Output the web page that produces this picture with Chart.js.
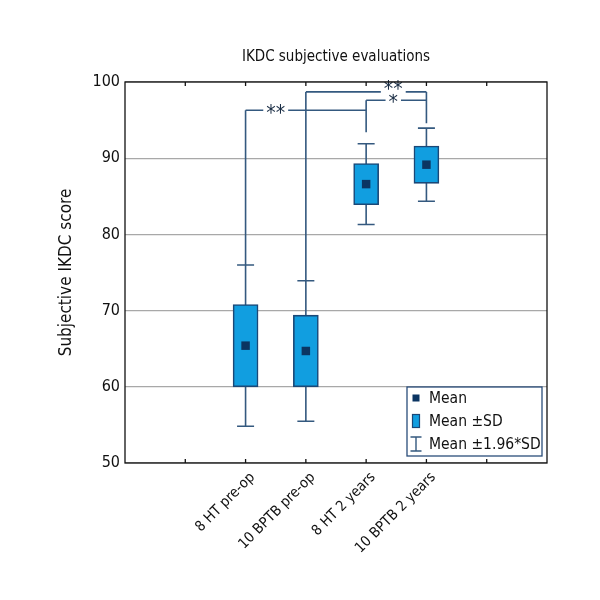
<!DOCTYPE html>
<html><head><meta charset="utf-8">
<script src="https://cdn.jsdelivr.net/npm/chart.js@4/dist/chart.umd.min.js"></script>
<style>html,body{margin:0;padding:0;background:#fff}</style>
</head><body>
<canvas id="c" width="600" height="600"></canvas>
<script>
// ---- data ----
const categories = ['8 HT pre-op', '10 BPTB pre-op', '8 HT 2 years', '10 BPTB 2 years'];
const catPositions = [2, 3, 4, 5];
const means = [65.4, 64.7, 86.6, 89.15];
const sds = [5.4, 4.7, 2.7, 2.45];
const ciFactor = 1.96;
const yTicks = [50, 60, 70, 80, 90, 100];
// significance brackets
const bracketFrom = [0, 2, 1];
const bracketTo = [2, 3, 3];
const bracketLevels = [96.3, 97.6, 98.7];
const bracketLabels = ['**', '*', '**'];
const bracketLabelX = [2.5, 4.45, 4.45];
const bracketLabelLift = [0, 1, 5];
const legTops = [96.3, 98.7, 97.6, 98.7];
const legBottoms = [75.9, 73.9, 93.4, 94.6];
const legendLabels = ['Mean', 'Mean \u00B1SD', 'Mean \u00B11.96*SD'];

const FONT = "'Liberation Sans Narrow','DejaVu Sans Condensed','Liberation Sans',sans-serif";
const BOX_FILL = '#119ee0';
const BOX_EDGE = '#1b4877';
const LINE = '#34597f';
const MEAN_C = '#0b3562';

const extras = {
  id: 'extras',
  beforeDatasetsDraw(chart) {
    const ctx = chart.ctx, xs = chart.scales.x, ys = chart.scales.y;
    ctx.save();
    ctx.strokeStyle = LINE;
    ctx.lineWidth = 1.6;
    const capHalf = 8.5;
    catPositions.forEach((p, i) => {
      const x = xs.getPixelForValue(p);
      const hi = means[i] + ciFactor * sds[i], lo = means[i] - ciFactor * sds[i];
      ctx.beginPath();
      ctx.moveTo(x, ys.getPixelForValue(hi)); ctx.lineTo(x, ys.getPixelForValue(lo));
      ctx.moveTo(x - capHalf, ys.getPixelForValue(hi)); ctx.lineTo(x + capHalf, ys.getPixelForValue(hi));
      ctx.moveTo(x - capHalf, ys.getPixelForValue(lo)); ctx.lineTo(x + capHalf, ys.getPixelForValue(lo));
      ctx.moveTo(x, ys.getPixelForValue(legTops[i])); ctx.lineTo(x, ys.getPixelForValue(legBottoms[i]));
      ctx.stroke();
    });
    bracketLevels.forEach((lv, k) => {
      const y = ys.getPixelForValue(lv);
      ctx.beginPath();
      ctx.moveTo(xs.getPixelForValue(catPositions[bracketFrom[k]]), y);
      ctx.lineTo(xs.getPixelForValue(catPositions[bracketTo[k]]), y);
      ctx.stroke();
    });
    ctx.font = '21px ' + FONT;
    ctx.textAlign = 'center';
    ctx.textBaseline = 'middle';
    bracketLevels.forEach((lv, k) => {
      const y = ys.getPixelForValue(lv);
      const x = xs.getPixelForValue(bracketLabelX[k]);
      const w = ctx.measureText(bracketLabels[k]).width + 6;
      ctx.fillStyle = '#fff';
      ctx.fillRect(x - w / 2, y - 2, w, 4);
      ctx.fillStyle = '#1a2d45';
      ctx.fillText(bracketLabels[k], x, y + 4 - bracketLabelLift[k]);
    });
    ctx.restore();
  },
  afterDraw(chart) {
    const ctx = chart.ctx, a = chart.chartArea, xs = chart.scales.x;
    ctx.save();
    ctx.strokeStyle = '#111';
    ctx.lineWidth = 1.3;
    ctx.strokeRect(a.left, a.top, a.right - a.left, a.bottom - a.top);
    ctx.beginPath();
    for (let v = 1; v <= 6; v++) {
      const x = xs.getPixelForValue(v);
      ctx.moveTo(x, a.top); ctx.lineTo(x, a.top + 4);
      ctx.moveTo(x, a.bottom); ctx.lineTo(x, a.bottom - 4);
    }
    ctx.stroke();
    ctx.fillStyle = '#111';
    ctx.font = '15px ' + FONT;
    ctx.textAlign = 'center';
    ctx.textBaseline = 'middle';
    ctx.fillText('IKDC subjective evaluations', (a.left + a.right) / 2 - 0, a.top - 25);
    // legend
    const L = a.right - 140, R = a.right - 5, T = a.bottom - 76, B = a.bottom - 7;
    ctx.fillStyle = '#fff';
    ctx.fillRect(L, T, R - L, B - T);
    ctx.strokeStyle = '#2a4d7a';
    ctx.lineWidth = 1.3;
    ctx.strokeRect(L, T, R - L, B - T);
    const rowY = [T + 11, T + 34, T + 57];
    const ix = L + 9;
    ctx.fillStyle = MEAN_C;
    ctx.fillRect(ix - 3.5, rowY[0] - 3.5, 7, 7);
    ctx.fillStyle = BOX_FILL;
    ctx.fillRect(ix - 3.5, rowY[1] - 6.5, 7, 13);
    ctx.strokeStyle = BOX_EDGE;
    ctx.lineWidth = 1.2;
    ctx.strokeRect(ix - 3.5, rowY[1] - 6.5, 7, 13);
    ctx.strokeStyle = LINE;
    ctx.lineWidth = 1.4;
    ctx.beginPath();
    ctx.moveTo(ix, rowY[2] - 7); ctx.lineTo(ix, rowY[2] + 7);
    ctx.moveTo(ix - 5.5, rowY[2] - 7); ctx.lineTo(ix + 5.5, rowY[2] - 7);
    ctx.moveTo(ix - 5.5, rowY[2] + 7); ctx.lineTo(ix + 5.5, rowY[2] + 7);
    ctx.stroke();
    ctx.fillStyle = '#111';
    ctx.font = '15.5px ' + FONT;
    ctx.textAlign = 'left';
    legendLabels.forEach((t, i) => ctx.fillText(t, L + 22, rowY[i] + 1));
    ctx.restore();
  }
};

new Chart(document.getElementById('c'), {
  type: 'bar',
  data: {
    datasets: [
      {
        type: 'bar',
        data: catPositions.map((x, i) => ({ x: x, y: [means[i] - sds[i], means[i] + sds[i]] })),
        backgroundColor: BOX_FILL,
        borderColor: BOX_EDGE,
        borderWidth: 1.6,
        borderSkipped: false,
        barThickness: 25,
        order: 2
      },
      {
        type: 'scatter',
        data: catPositions.map((x, i) => ({ x: x, y: means[i] })),
        pointStyle: 'rect',
        radius: 6,
        backgroundColor: MEAN_C,
        borderWidth: 0,
        order: 1
      }
    ]
  },
  options: {
    responsive: false,
    animation: false,
    layout: { padding: { left: 0, right: 53, top: 82, bottom: 0 } },
    plugins: { legend: { display: false }, tooltip: { enabled: false } },
    scales: {
      x: {
        type: 'linear', min: 0, max: 7, offset: false,
        grid: { display: false, drawTicks: false },
        border: { display: false },
        ticks: {
          stepSize: 1, autoSkip: false, maxRotation: 45, minRotation: 45,
          padding: 6, labelOffset: 7, color: '#111',
          font: { family: FONT, size: 14.5 },
          callback: (v) => { const i = catPositions.indexOf(v); return i >= 0 ? categories[i] : ''; }
        },
        afterFit: (s) => { s.height = 137; }
      },
      y: {
        min: 50, max: 100,
        afterBuildTicks: (s) => { s.ticks = yTicks.map(v => ({ value: v })); },
        ticks: { color: '#111', padding: 5, font: { family: FONT, size: 16 } },
        grid: { color: '#a8a8a8', lineWidth: 1.3, drawTicks: false },
        border: { display: false },
        title: {
          display: true, text: 'Subjective IKDC score', color: '#111',
          font: { family: FONT, size: 17 }, padding: { top: 56, bottom: 0 }
        },
        afterFit: (s) => { s.width = 125; }
      }
    }
  },
  plugins: [extras]
});
</script>
</body></html>
